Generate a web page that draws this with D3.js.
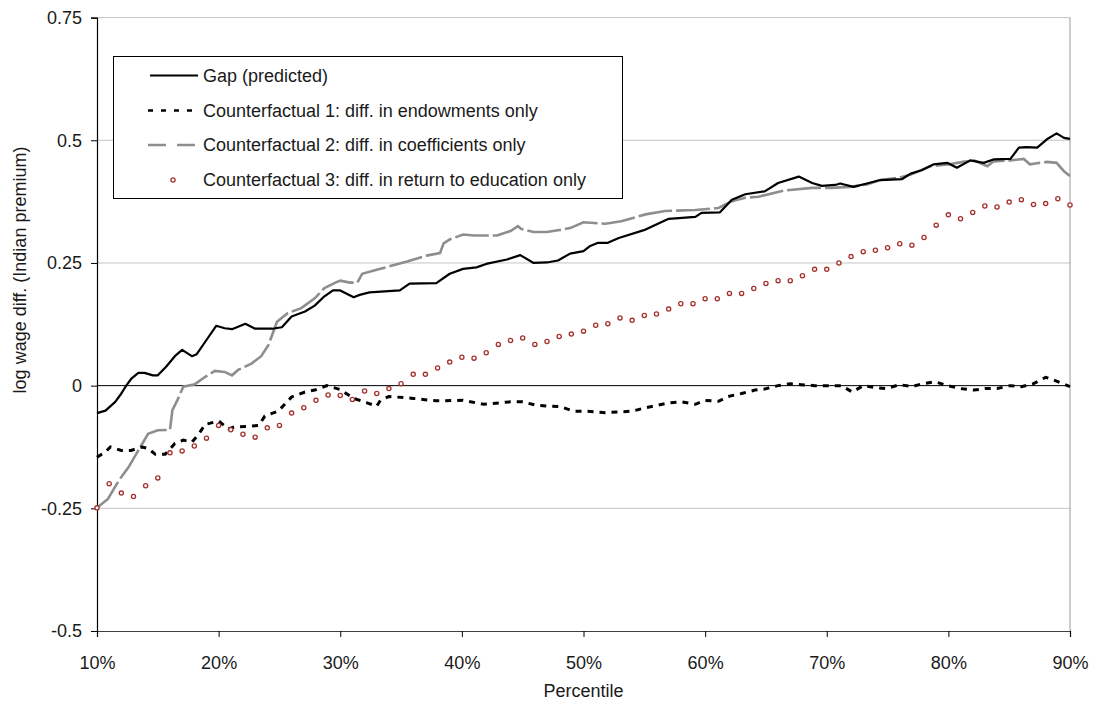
<!DOCTYPE html>
<html>
<head>
<meta charset="utf-8">
<script src="https://cdn.jsdelivr.net/npm/d3@7"></script>
<style>
  html, body { margin: 0; padding: 0; background: #fff; }
  svg { display: block; font-family: Arial, "Liberation Sans", sans-serif; }
</style>
</head>
<body>
<svg id="chart" width="1094" height="704"></svg>
<script>
// Percentile axis ticks and value axis ticks
const pctTicks = [10, 20, 30, 40, 50, 60, 70, 80, 90];
const pctLabels = ["10%", "20%", "30%", "40%", "50%", "60%", "70%", "80%", "90%"];
const valTicks = [-0.5, -0.25, 0, 0.25, 0.5, 0.75];
const valLabels = ["-0.5", "-0.25", "0", "0.25", "0.5", "0.75"];

// Gap (predicted)
const gapPct = [10.0, 10.7, 11.5, 12.0, 12.4, 12.85, 13.4, 13.9, 14.6, 15.0, 15.7, 16.4, 17.0, 17.8, 18.2, 19.0, 19.8, 20.5, 21.1, 22.2, 23.0, 24.4, 25.2, 26.0, 27.1, 27.9, 28.7, 29.4, 30.0, 31.1, 31.6, 32.4, 34.9, 35.7, 37.9, 39.0, 40.1, 41.2, 42.0, 43.7, 44.8, 45.9, 47.0, 47.9, 48.9, 50.0, 50.5, 51.2, 52.0, 52.9, 55.1, 57.0, 59.2, 59.7, 61.2, 62.2, 63.3, 64.9, 66.0, 67.7, 68.8, 69.6, 70.7, 71.1, 72.2, 73.3, 74.4, 76.2, 76.9, 77.8, 78.8, 79.9, 80.7, 81.8, 82.9, 83.7, 85.1, 85.8, 86.4, 87.3, 88.1, 88.9, 89.5, 90.0];
const gapVal = [-0.056, -0.051, -0.033, -0.016, 0.0, 0.015, 0.026, 0.026, 0.021, 0.021, 0.039, 0.06, 0.073, 0.06, 0.064, 0.093, 0.122, 0.117, 0.115, 0.126, 0.116, 0.116, 0.119, 0.141, 0.151, 0.163, 0.182, 0.194, 0.194, 0.18, 0.185, 0.19, 0.194, 0.208, 0.209, 0.228, 0.238, 0.241, 0.248, 0.257, 0.266, 0.25, 0.251, 0.255, 0.269, 0.274, 0.284, 0.291, 0.291, 0.301, 0.318, 0.34, 0.344, 0.352, 0.353, 0.379, 0.39, 0.396, 0.413, 0.426, 0.413, 0.407, 0.409, 0.412, 0.405, 0.412, 0.419, 0.421, 0.432, 0.439, 0.451, 0.454, 0.444, 0.459, 0.454, 0.461, 0.462, 0.485, 0.486, 0.485, 0.502, 0.514, 0.505, 0.503];

// Counterfactual 1: endowments only
const cf1Pct = [10.0, 10.7, 11.1, 12.0, 12.8, 13.7, 14.2, 14.8, 15.6, 16.4, 17.1, 17.8, 18.3, 18.9, 20.0, 20.8, 21.3, 22.4, 23.3, 23.8, 24.9, 26.0, 27.1, 27.9, 28.9, 30.0, 31.1, 32.2, 33.0, 33.3, 34.0, 36.0, 37.9, 40.1, 41.8, 44.0, 45.0, 46.1, 48.1, 49.2, 50.3, 51.8, 54.0, 55.1, 57.0, 58.1, 59.2, 60.0, 61.1, 61.9, 63.0, 64.1, 64.9, 66.0, 67.0, 67.9, 69.0, 70.4, 71.2, 72.1, 73.0, 74.0, 74.9, 76.0, 77.0, 77.9, 78.9, 79.9, 81.0, 82.1, 83.0, 84.0, 85.1, 86.0, 87.0, 88.0, 88.5, 89.2, 90.0];
const cf1Val = [-0.146, -0.135, -0.125, -0.132, -0.132, -0.125, -0.128, -0.14, -0.14, -0.118, -0.111, -0.115, -0.101, -0.079, -0.072, -0.088, -0.084, -0.083, -0.081, -0.062, -0.052, -0.023, -0.013, -0.009, 0.0, -0.008, -0.026, -0.035, -0.042, -0.03, -0.022, -0.026, -0.031, -0.03, -0.038, -0.033, -0.033, -0.04, -0.043, -0.052, -0.052, -0.055, -0.052, -0.045, -0.035, -0.033, -0.038, -0.03, -0.032, -0.022, -0.016, -0.009, -0.007, 0.0, 0.004, 0.002, 0.0, 0.0, 0.0, -0.013, 0.0, -0.004, -0.006, 0.002, -0.002, 0.004, 0.008, 0.0, -0.006, -0.009, -0.006, -0.006, 0.0, -0.002, 0.004, 0.017, 0.013, 0.006, -0.002];

// Counterfactual 2: coefficients only
const cf2Pct = [10.0, 10.9, 11.8, 12.6, 13.4, 14.2, 15.0, 16.0, 16.2, 16.6, 17.1, 18.05, 18.9, 19.7, 20.5, 21.1, 21.6, 22.7, 23.5, 24.1, 24.8, 25.7, 26.8, 27.9, 28.7, 29.6, 30.0, 30.8, 31.4, 31.8, 33.3, 35.5, 37.1, 38.2, 38.5, 39.0, 40.1, 41.0, 42.9, 44.0, 44.6, 44.9, 45.9, 47.0, 48.9, 50.0, 51.8, 53.1, 55.1, 56.7, 59.2, 61.1, 62.2, 63.3, 64.4, 66.6, 68.8, 70.4, 71.9, 73.3, 74.4, 76.0, 76.9, 78.5, 80.1, 81.2, 82.1, 83.2, 83.7, 85.1, 86.2, 86.7, 88.1, 88.9, 89.5, 90.0];
const cf2Val = [-0.249, -0.231, -0.193, -0.166, -0.132, -0.098, -0.091, -0.09, -0.05, -0.03, -0.002, 0.003, 0.018, 0.03, 0.028, 0.021, 0.032, 0.045, 0.06, 0.083, 0.13, 0.148, 0.158, 0.178, 0.199, 0.21, 0.214, 0.21, 0.21, 0.228, 0.238, 0.253, 0.265, 0.27, 0.29, 0.298, 0.308, 0.306, 0.306, 0.315, 0.325, 0.319, 0.313, 0.313, 0.321, 0.333, 0.33, 0.335, 0.349, 0.356, 0.358, 0.362, 0.376, 0.383, 0.385, 0.398, 0.403, 0.403, 0.405, 0.41, 0.419, 0.424, 0.43, 0.447, 0.451, 0.456, 0.459, 0.447, 0.457, 0.459, 0.462, 0.451, 0.456, 0.454, 0.437, 0.427];

// Counterfactual 3: return to education only (one marker per percentile, 10..90)
const cf3Pct = d3.range(10, 91);
const cf3Val = [-0.249, -0.2, -0.219, -0.226, -0.204, -0.188, -0.137, -0.133, -0.123, -0.107, -0.081, -0.09, -0.099, -0.105, -0.086, -0.081, -0.056, -0.045, -0.03, -0.019, -0.02,
  -0.028, -0.011, -0.016, -0.006, 0.004, 0.023, 0.023, 0.036, 0.048, 0.058, 0.056, 0.067, 0.084, 0.092, 0.097, 0.084, 0.09, 0.1, 0.105, 0.111,
  0.123, 0.126, 0.138, 0.133, 0.143, 0.146, 0.156, 0.167, 0.167, 0.177, 0.177, 0.188, 0.188, 0.198, 0.208, 0.214, 0.214, 0.224, 0.237, 0.237,
  0.25, 0.263, 0.273, 0.276, 0.281, 0.289, 0.286, 0.302, 0.327, 0.348, 0.34, 0.353, 0.366, 0.364, 0.374, 0.379, 0.369, 0.371, 0.381, 0.368];

const legendLabels = [
  "Gap (predicted)",
  "Counterfactual 1: diff. in endowments only",
  "Counterfactual 2: diff. in coefficients only",
  "Counterfactual 3: diff. in return to education only"
];

const svg = d3.select("#chart");
const plotLeft = 97, plotRight = 1070, plotTop = 17.6, plotBottom = 631;

const x = d3.scaleLinear().domain([10, 90]).range([plotLeft, plotRight]);
const y = d3.scaleLinear().domain([-0.5, 0.75]).range([plotBottom, plotTop]);

const textColor = "#1a1a1a";
const grayLine = "#8e8e8e";
const red = "#a3302c";

// horizontal gridlines
svg.append("g").selectAll("line")
  .data(valTicks.filter(v => v !== 0 && v !== -0.5))
  .join("line")
  .attr("x1", plotLeft).attr("x2", plotRight)
  .attr("y1", d => y(d)).attr("y2", d => y(d))
  .attr("stroke", "#c4c4c4").attr("stroke-width", 1);

// right border of the plot area
svg.append("line")
  .attr("x1", plotRight).attr("x2", plotRight).attr("y1", plotTop).attr("y2", plotBottom)
  .attr("stroke", "#9a9a9a").attr("stroke-width", 1);

// zero line
svg.append("line")
  .attr("x1", plotLeft).attr("x2", plotRight).attr("y1", y(0)).attr("y2", y(0))
  .attr("stroke", "#000").attr("stroke-width", 1);

// y axis
const yAxis = d3.axisLeft(y).tickValues(valTicks)
  .tickFormat((d, i) => valLabels[i]).tickSize(6).tickPadding(9);
const gy = svg.append("g").attr("transform", `translate(${plotLeft},0)`).call(yAxis);
gy.select(".domain").attr("stroke", "#000").attr("stroke-width", 1.2);
gy.selectAll(".tick line").attr("stroke", "#000");
gy.selectAll("text").attr("font-size", 18).attr("fill", textColor)
  .attr("font-family", "Arial, 'Liberation Sans', sans-serif");

// x axis
const xAxis = d3.axisBottom(x).tickValues(pctTicks)
  .tickFormat((d, i) => pctLabels[i]).tickSize(6).tickPadding(19);
const gx = svg.append("g").attr("transform", `translate(0,${plotBottom})`).call(xAxis);
gx.select(".domain").attr("stroke", "#404040").attr("stroke-width", 1.2);
gx.selectAll(".tick line").attr("stroke", "#000");
gx.selectAll("text").attr("font-size", 18).attr("fill", textColor)
  .attr("font-family", "Arial, 'Liberation Sans', sans-serif");

// axis titles
svg.append("text")
  .attr("x", (plotLeft + plotRight) / 2).attr("y", 697)
  .attr("text-anchor", "middle").attr("font-size", 18).attr("fill", textColor)
  .text("Percentile");
svg.append("text")
  .attr("transform", "translate(26,270) rotate(-90)")
  .attr("text-anchor", "middle").attr("font-size", 18).attr("fill", textColor)
  .text("log wage diff. (Indian premium)");

const line = d3.line().x(d => x(d[0])).y(d => y(d[1]));
const zip = (a, b) => a.map((v, i) => [v, b[i]]);

// Counterfactual 2 (gray long dashes)
svg.append("path")
  .attr("d", line(zip(cf2Pct, cf2Val)))
  .attr("fill", "none").attr("stroke", grayLine).attr("stroke-width", 2.6)
  .attr("stroke-dasharray", "34,4");

// Counterfactual 1 (black short dashes)
svg.append("path")
  .attr("d", line(zip(cf1Pct, cf1Val)))
  .attr("fill", "none").attr("stroke", "#000").attr("stroke-width", 3)
  .attr("stroke-dasharray", "6,6");

// Gap (solid black)
svg.append("path")
  .attr("d", line(zip(gapPct, gapVal)))
  .attr("fill", "none").attr("stroke", "#000").attr("stroke-width", 2.2)
  .attr("stroke-linejoin", "round");

// Counterfactual 3 (open red circles)
svg.append("g").selectAll("circle")
  .data(zip(cf3Pct, cf3Val))
  .join("circle")
  .attr("cx", d => x(d[0])).attr("cy", d => y(d[1]))
  .attr("r", 2.1)
  .attr("fill", "#fff").attr("stroke", red).attr("stroke-width", 1.3);

// legend
const lg = svg.append("g");
lg.append("rect")
  .attr("x", 113.5).attr("y", 56.5).attr("width", 509).attr("height", 142)
  .attr("fill", "#fff").attr("stroke", "#000").attr("stroke-width", 1);
const rowY = [75.5, 110.5, 145, 180];
lg.append("line").attr("x1", 150).attr("x2", 198).attr("y1", rowY[0]).attr("y2", rowY[0])
  .attr("stroke", "#000").attr("stroke-width", 2.2);
lg.append("line").attr("x1", 148).attr("x2", 199).attr("y1", rowY[1]).attr("y2", rowY[1])
  .attr("stroke", "#000").attr("stroke-width", 2.7).attr("stroke-dasharray", "5,8");
lg.append("line").attr("x1", 148).attr("x2", 195).attr("y1", rowY[2]).attr("y2", rowY[2])
  .attr("stroke", grayLine).attr("stroke-width", 2.6).attr("stroke-dasharray", "18,11");
lg.append("circle").attr("cx", 173).attr("cy", rowY[3]).attr("r", 2.1)
  .attr("fill", "#fff").attr("stroke", red).attr("stroke-width", 1.3);
lg.selectAll("text.lbl")
  .data(legendLabels)
  .join("text")
  .attr("class", "lbl")
  .attr("x", 203).attr("y", (d, i) => rowY[i]).attr("dy", "0.36em")
  .attr("font-size", 18).attr("fill", textColor)
  .text(d => d);
</script>
</body>
</html>
